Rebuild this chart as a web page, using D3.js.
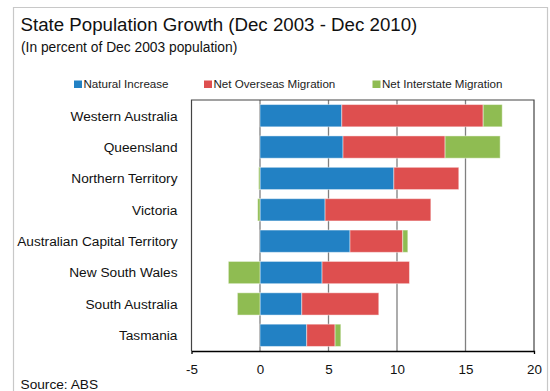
<!DOCTYPE html>
<html>
<head>
<meta charset="utf-8">
<script src="https://cdn.jsdelivr.net/npm/d3@7"></script>
<style>
  html, body { margin: 0; padding: 0; background: #fff; }
  svg { display: block; font-family: "Liberation Sans", Arial, sans-serif; }
</style>
</head>
<body>
<svg id="chart" width="550" height="391"></svg>
<script>
const categories = ["Western Australia", "Queensland", "Northern Territory", "Victoria",
  "Australian Capital Territory", "New South Wales", "South Australia", "Tasmania"];
const seriesNames = ["Natural Increase", "Net Overseas Migration", "Net Interstate Migration"];
const naturalIncrease = [5.97, 6.06, 9.77, 4.75, 6.57, 4.53, 3.05, 3.41];
const netOverseas = [10.32, 7.45, 4.74, 7.72, 3.85, 6.38, 5.62, 2.07];
const netInterstate = [1.39, 4.02, -0.1, -0.17, 0.37, -2.31, -1.65, 0.42];
const xTicks = [-5, 0, 5, 10, 15, 20];
const colors = ["#2281C4", "#DE4F4F", "#8FBC52"];

const svg = d3.select("#chart");
const plot = { left: 191.5, right: 534, top: 100, bottom: 351 };

// outer frame
svg.append("path")
  .attr("d", `M13.5,392 V7.5 H547.5 V392`)
  .attr("fill", "none").attr("stroke", "#c8c8c8").attr("stroke-width", 1.2);

svg.append("text").attr("x", 20.5).attr("y", 30.7)
  .attr("font-size", 18.7).attr("fill", "#111")
  .text("State Population Growth (Dec 2003 - Dec 2010)");
svg.append("text").attr("x", 21).attr("y", 52.3)
  .attr("font-size", 13.8).attr("fill", "#111")
  .text("(In percent of Dec 2003 population)");

const x = d3.scaleLinear().domain([-5, 20]).range([plot.left, plot.right]);
const y = d3.scaleBand().domain(categories).range([plot.top, plot.bottom]).paddingInner(0.29).paddingOuter(0.145);

// gridlines
svg.append("g").selectAll("line").data(xTicks.filter(t => t > -5 && t < 20)).join("line")
  .attr("x1", d => x(d)).attr("x2", d => x(d))
  .attr("y1", plot.top).attr("y2", plot.bottom)
  .attr("stroke", "#808080").attr("stroke-width", 1.3);

// stacked bars
const rows = categories.map((c, i) => ({ cat: c, vals: [naturalIncrease[i], netOverseas[i], netInterstate[i]] }));
const segs = [];
rows.forEach(r => {
  let pos = 0, neg = 0;
  r.vals.forEach((v, k) => {
    let x0, x1;
    if (v >= 0) { x0 = pos; x1 = pos + v; pos = x1; }
    else { x0 = neg + v; x1 = neg; neg = x0; }
    segs.push({ cat: r.cat, k, x0, x1 });
  });
});
svg.append("g").selectAll("rect").data(segs).join("rect")
  .attr("x", d => x(d.x0)).attr("width", d => x(d.x1) - x(d.x0))
  .attr("y", d => y(d.cat)).attr("height", y.bandwidth())
  .attr("fill", d => colors[d.k])
  .attr("stroke", "#fff").attr("stroke-opacity", 0.45).attr("stroke-width", 1);

// plot frame (left, top, right)
svg.append("path")
  .attr("d", `M${plot.left},${plot.bottom} V${plot.top} H${plot.right} V${plot.bottom}`)
  .attr("fill", "none").attr("stroke", "#444").attr("stroke-width", 1.2);

// x axis
const xAxis = svg.append("g").attr("transform", `translate(0,${plot.bottom})`)
  .call(d3.axisBottom(x).tickValues(xTicks).tickSizeInner(0).tickSizeOuter(3)
    .tickFormat(d => String(d)));
xAxis.select(".domain").attr("stroke", "#000").attr("stroke-width", 1.3);
xAxis.selectAll(".tick text").attr("font-size", 13.4).attr("fill", "#111")
  .attr("font-family", "Liberation Sans, Arial, sans-serif").attr("y", 13).attr("dy", "0.71em");

// category labels
svg.append("g").selectAll("text").data(categories).join("text")
  .attr("x", 177.5).attr("y", d => y(d) + y.bandwidth() / 2).attr("dy", "0.36em")
  .attr("text-anchor", "end").attr("font-size", 13.7).attr("fill", "#111")
  .text(d => d);

// legend
const legendX = [74, 204, 372.5];
const lg = svg.append("g").selectAll("g").data(seriesNames).join("g")
  .attr("transform", (d, i) => `translate(${legendX[i]},80.5)`);
lg.append("rect").attr("width", 8).attr("height", 7.5).attr("fill", (d, i) => colors[i]);
lg.append("text").attr("x", 9.5).attr("y", 7.3).attr("font-size", 11.6)
  .attr("fill", "#222").text(d => d);

svg.append("text").attr("x", 20.5).attr("y", 389)
  .attr("font-size", 13.7).attr("fill", "#111").text("Source: ABS");
</script>
</body>
</html>
